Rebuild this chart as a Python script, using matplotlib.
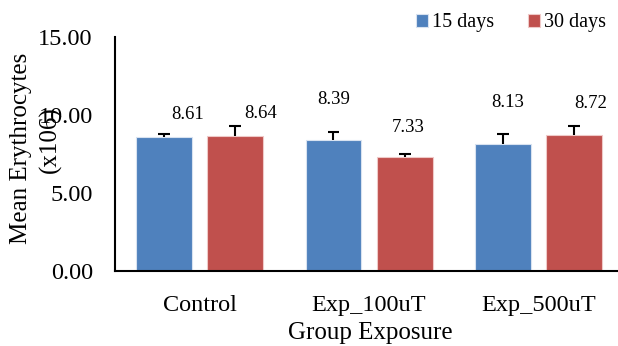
import matplotlib
matplotlib.use("Agg")
import matplotlib.pyplot as plt
import numpy as np

categories = ["Control", "Exp_100uT", "Exp_500uT"]
series_names = ["15 days", "30 days"]
values_15 = [8.61, 8.39, 8.13]
values_30 = [8.64, 7.33, 8.72]
err_15 = [0.17, 0.55, 0.64]
err_30 = [0.67, 0.15, 0.58]
yticks = [0.0, 5.0, 10.0, 15.0]

colors = ["#4F81BD", "#C0504D"]
# label offsets (x in data units, y in points) mimicking the original placement
lab_dx = [[0.14, 0.0, 0.03], [0.15, 0.02, 0.10]]
lab_dy = [[16, 29.5, 30], [16.5, 21, 23]]

plt.rcParams['font.family'] = ['Liberation Serif', 'DejaVu Serif']

fig = plt.figure(figsize=(6.18, 3.46), dpi=100)
ax = fig.add_axes([115/618, (346-271)/346, 1 - 115/618, (271-37)/346])

x = np.arange(len(categories))
width = 0.33
off = 0.21
cap = 0.035
for i, (vals, errs) in enumerate([(values_15, err_15), (values_30, err_30)]):
    pos = x + (-off if i == 0 else off)
    ax.bar(pos, vals, width, color=colors[i], edgecolor="#d8e2f0" if i == 0 else "#efc9c8",
           linewidth=0.8, label=series_names[i], zorder=2)
    tops = np.array(vals) + np.array(errs)
    ax.vlines(pos, vals, tops, color='black', linewidth=1.5, zorder=3)
    ax.hlines(tops, pos - cap, pos + cap, color='black', linewidth=1.5, zorder=3)
    for j, v in enumerate(vals):
        ax.annotate(f"{v:.2f}", (pos[j] + lab_dx[i][j], v), xytext=(0, lab_dy[i][j]),
                    textcoords='offset points', ha='center', va='center', fontsize=13.5)

ax.set_xlim(-0.5, 2.47)
ax.set_ylim(0, 15)
ax.set_yticks(yticks)
ax.set_yticklabels([f"{t:.2f}" for t in yticks], fontsize=17.5)
ax.set_xticks(x)
ax.set_xticklabels(categories, fontsize=17.5)
ax.tick_params(axis='both', length=0)
ax.tick_params(axis='y', pad=16)
ax.tick_params(axis='x', pad=17)
for s in ['top', 'right']:
    ax.spines[s].set_visible(False)
ax.spines['left'].set_linewidth(1.5)
ax.spines['bottom'].set_linewidth(1.5)

ax.set_xlabel("Group Exposure", fontsize=18, va='center')
ax.xaxis.set_label_coords((370 - 115) / (618 - 115), -(333 - 271) / 234)
fig.text(21/618, 1 - 148/346, "Mean Erythrocytes", rotation=90, ha='center', va='center', fontsize=18)
fig.text(50/618, 1 - 140/346, "(x106)", rotation=90, ha='center', va='center', fontsize=18)

leg = fig.legend(loc='center', bbox_to_anchor=(511/618, 1 - 23/346), ncol=2, frameon=False,
                 fontsize=14.5, handlelength=0.6, handleheight=0.6, handletextpad=0.2,
                 columnspacing=1.7)

fig.savefig("out.png", dpi=100)
